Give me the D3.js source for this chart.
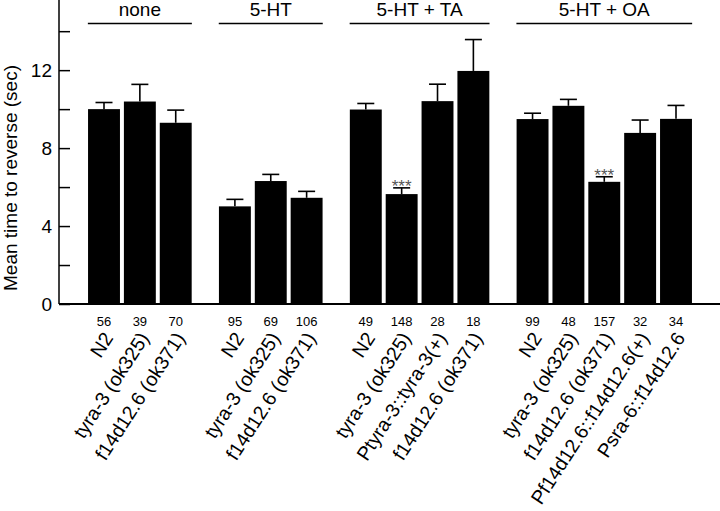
<!DOCTYPE html>
<html>
<head>
<meta charset="utf-8">
<script src="https://cdn.jsdelivr.net/npm/d3@7"></script>
<style>
  html, body { margin: 0; padding: 0; background: #fff; }
  svg { display: block; font-family: "Liberation Sans", Arial, Helvetica, sans-serif; }
</style>
</head>
<body>
<svg id="chart" width="720" height="511"></svg>
<script>
// ---- data ----
const groupNames = ["none", "5-HT", "5-HT + TA", "5-HT + OA"];
const barGroup = [0, 0, 0, 1, 1, 1, 2, 2, 2, 2, 3, 3, 3, 3, 3];
const strains = [
  "N2", "tyra-3 (ok325)", "f14d12.6 (ok371)",
  "N2", "tyra-3 (ok325)", "f14d12.6 (ok371)",
  "N2", "tyra-3 (ok325)", "Ptyra-3::tyra-3(+)", "f14d12.6 (ok371)",
  "N2", "tyra-3 (ok325)", "f14d12.6 (ok371)", "Pf14d12.6::f14d12.6(+)", "Psra-6::f14d12.6"
];
const means = [10.0, 10.39, 9.30, 5.01, 6.31, 5.45, 9.98, 5.64, 10.41, 11.96, 9.49, 10.17, 6.27, 8.78, 9.50];
const sems  = [0.34, 0.88, 0.65, 0.36, 0.34, 0.33, 0.31, 0.32, 0.87, 1.61, 0.30, 0.33, 0.26, 0.66, 0.69];
const nCounts = ["56", "39", "70", "95", "69", "106", "49", "148", "28", "18", "99", "48", "157", "32", "34"];
const signif = ["", "", "", "", "", "", "", "***", "", "", "", "", "***", "", ""];
const yTicks = [0, 2, 4, 6, 8, 10, 12, 14];
const yTickLabels = ["0", "", "4", "", "8", "", "12", ""];
const yTitle = "Mean time to reverse (sec)";

// ---- layout ----
const svg = d3.select("#chart");
const axisX = 59, baseY = 304;
const groupGap = 0.65;
const slots = barGroup.map((g, i) => i + g * groupGap);
const x = d3.scaleLinear().domain([0, d3.max(slots)]).range([104, 676]);
const y = d3.scaleLinear().domain([0, 15.6]).range([baseY, 0]);
const barW = x(0.89) - x(0);

// axes
svg.append("line").attr("x1", axisX).attr("x2", axisX).attr("y1", 0).attr("y2", baseY)
  .attr("stroke", "#000").attr("stroke-width", 1.5);

const yAxis = d3.axisRight(y).tickValues(yTicks).tickSize(11).tickFormat(() => "");
const yg = svg.append("g").attr("transform", `translate(${axisX},0)`).call(yAxis);
yg.select(".domain").remove();
yg.selectAll(".tick line").attr("stroke", "#000").attr("stroke-width", 1.5);
svg.append("g").selectAll("text").data(yTicks).join("text")
  .attr("x", axisX - 7).attr("y", d => y(d)).attr("dy", "0.36em")
  .attr("text-anchor", "end").attr("font-size", 19).attr("fill", "#000")
  .text((d, i) => yTickLabels[i]);

svg.append("text").attr("transform", `translate(17,${178}) rotate(-90)`)
  .attr("text-anchor", "middle").attr("font-size", 19).attr("fill", "#000")
  .text(yTitle);

// bars
const idx = d3.range(means.length);
svg.append("g").selectAll("rect").data(idx).join("rect")
  .attr("x", i => x(slots[i]) - barW / 2).attr("width", barW)
  .attr("y", i => y(means[i])).attr("height", i => y(0) - y(means[i]))
  .attr("fill", "#000");

// error bars
const eg = svg.append("g").attr("stroke", "#000").attr("stroke-width", 1.6);
eg.selectAll("line.v").data(idx).join("line").attr("class", "v")
  .attr("x1", i => x(slots[i])).attr("x2", i => x(slots[i]))
  .attr("y1", i => y(means[i])).attr("y2", i => y(means[i] + sems[i]));
eg.selectAll("line.c").data(idx).join("line").attr("class", "c")
  .attr("x1", i => x(slots[i]) - 8.5).attr("x2", i => x(slots[i]) + 8.5)
  .attr("y1", i => y(means[i] + sems[i])).attr("y2", i => y(means[i] + sems[i]));

// significance
svg.append("g").selectAll("text").data(idx.filter(i => signif[i])).join("text")
  .attr("x", i => x(slots[i])).attr("y", i => y(means[i] + sems[i]) + 4.5)
  .attr("text-anchor", "middle").attr("font-size", 17).attr("fill", "#555")
  .text(i => signif[i]);

// baseline
svg.append("line").attr("x1", axisX).attr("x2", 720).attr("y1", baseY).attr("y2", baseY)
  .attr("stroke", "#000").attr("stroke-width", 1.8);

// group lines and labels
groupNames.forEach((name, g) => {
  const members = idx.filter(i => barGroup[i] === g);
  const x1 = x(slots[members[0]] - 0.45), x2 = x(slots[members[members.length - 1]] + 0.45);
  svg.append("line").attr("x1", x1).attr("x2", x2).attr("y1", 23.5).attr("y2", 23.5)
    .attr("stroke", "#000").attr("stroke-width", 1.5);
  svg.append("text").attr("x", (x1 + x2) / 2).attr("y", 16)
    .attr("text-anchor", "middle").attr("font-size", 19).attr("fill", "#000").text(name);
});

// n counts
svg.append("g").selectAll("text").data(idx).join("text")
  .attr("x", i => x(slots[i])).attr("y", 326)
  .attr("text-anchor", "middle").attr("font-size", 13).attr("fill", "#000")
  .text(i => nCounts[i]);

// strain labels
svg.append("g").selectAll("text").data(idx).join("text")
  .attr("transform", i => `translate(${x(slots[i]) + 10},${338}) rotate(-57)`)
  .attr("text-anchor", "end").attr("font-size", 19.5).attr("fill", "#000")
  .text(i => strains[i]);
</script>
</body>
</html>
